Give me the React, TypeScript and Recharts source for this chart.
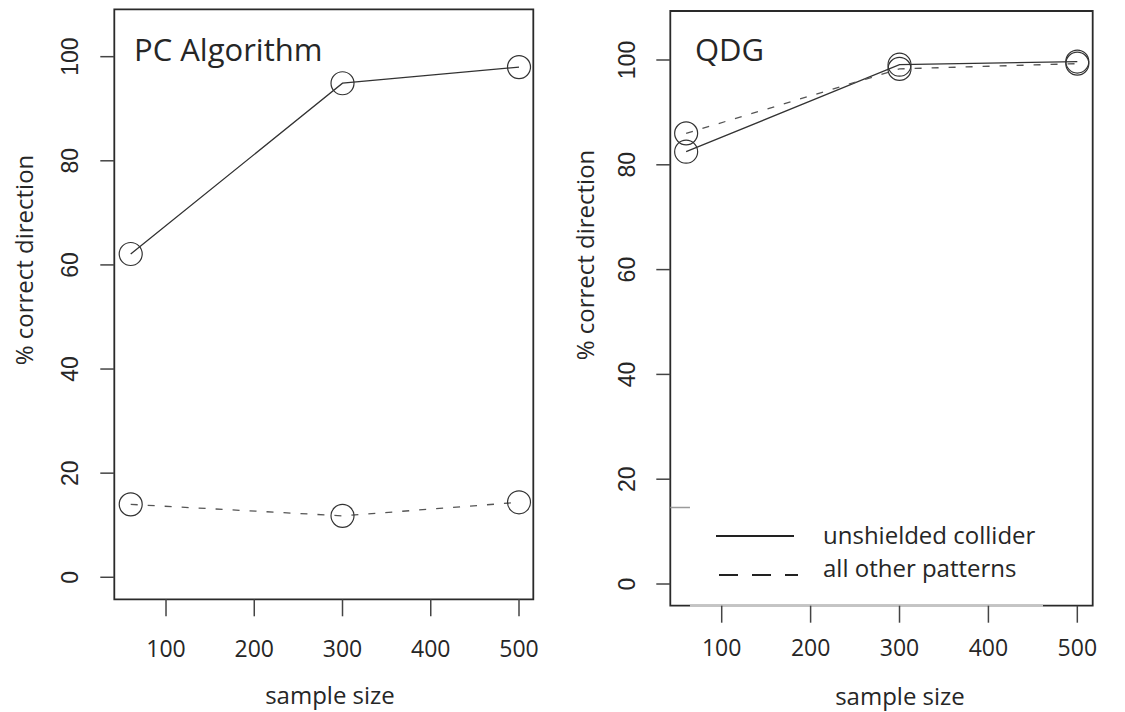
import React from 'react';
import { LineChart, Line, XAxis, YAxis, ReferenceArea, ReferenceLine } from 'recharts';

// sample sizes on the x axis
const sampleSizes = [60, 300, 500];

// PC Algorithm panel
const pcCollider = [62.1, 94.9, 98.0];
const pcOther = [14.0, 11.8, 14.4];

// QDG panel
const qdgCollider = [82.5, 99.1, 99.7];
const qdgOther = [86.0, 98.3, 99.3];

const xTicks = [100, 200, 300, 400, 500];
const yTicks = [0, 20, 40, 60, 80, 100];

const legendLabels = ['unshielded collider', 'all other patterns'];

const pcData = sampleSizes.map((n, i) => ({ n, collider: pcCollider[i], other: pcOther[i] }));
const qdgData = sampleSizes.map((n, i) => ({ n, collider: qdgCollider[i], other: qdgOther[i] }));

const INK = '#262626';
const SANS = '"Open Sans", "Noto Sans", sans-serif';

const Circle = (p: any) => (
  <circle key={p.key ?? `${p.cx}-${p.cy}`} cx={p.cx} cy={p.cy} r={11.5} fill="none" stroke="#333" strokeWidth={1.2} />
);

const YTick = (props: any) => {
  const { x, y, payload } = props;
  return (
    <text
      x={x}
      y={y}
      transform={`rotate(-90 ${x} ${y})`}
      textAnchor="middle"
      dominantBaseline="central"
      fontSize={23}
      fontFamily='"Liberation Sans", Arial, sans-serif'
      fill={INK}
    >
      {payload.value}
    </text>
  );
};

const XTick = (props: any) => {
  const { x, y, payload } = props;
  return (
    <text x={x} y={y} textAnchor="middle" fontSize={23} fontFamily={SANS} fill={INK}>
      {payload.value}
    </text>
  );
};

type PanelProps = {
  data: any[];
  left: number;
  width: number;
  margin: { top: number; right: number; left: number; bottom: number };
  xDomain: [number, number];
  yDomain: [number, number];
  yTickMargin: number;
  xTickMargin: number;
  extras?: React.ReactNode;
};

const Panel = ({ data, left, width, margin, xDomain, yDomain, yTickMargin, xTickMargin, extras }: PanelProps) => (
  <div style={{ position: 'absolute', left, top: 0 }}>
    <LineChart width={width} height={712} data={data} margin={margin}>
      <XAxis
        type="number"
        dataKey="n"
        domain={xDomain}
        ticks={xTicks}
        allowDataOverflow
        axisLine={false}
        tickLine={{ stroke: '#444', strokeWidth: 1.5 }}
        tickSize={17}
        tickMargin={xTickMargin}
        height={100}
        tick={XTick}
        interval={0}
      />
      <YAxis
        type="number"
        domain={yDomain}
        ticks={yTicks}
        allowDataOverflow
        axisLine={false}
        tickLine={{ stroke: '#444', strokeWidth: 1.5 }}
        tickSize={14}
        tickMargin={yTickMargin}
        width={100}
        tick={YTick}
        interval={0}
      />
      <ReferenceArea
        x1={xDomain[0]}
        x2={xDomain[1]}
        y1={yDomain[0]}
        y2={yDomain[1]}
        fill="none"
        stroke="#2a2a2a"
        strokeWidth={1.8}
        fillOpacity={0}
      />
      {extras}
      <Line
        type="linear"
        dataKey="collider"
        stroke="#333"
        strokeWidth={1.3}
        dot={Circle}
        activeDot={false}
        isAnimationActive={false}
      />
      <Line
        type="linear"
        dataKey="other"
        stroke="#555"
        strokeWidth={1.3}
        strokeDasharray="7 10"
        dot={Circle}
        activeDot={false}
        isAnimationActive={false}
      />
    </LineChart>
  </div>
);

const qdgX: [number, number] = [42.18, 517.3];
const qdgY: [number, number] = [-4.14, 109.35];

export default function App() {
  return (
    <div style={{ position: 'absolute', left: 0, top: 0, width: 1125, height: 712, background: '#fff', overflow: 'hidden' }}>
      <Panel
        data={pcData}
        left={0}
        width={560}
        margin={{ top: 9.3, right: 26.7, left: 14.3, bottom: 12.7 }}
        xDomain={[41.4, 516.2]}
        yDomain={[-4.23, 109.1]}
        yTickMargin={30.3}
        xTickMargin={40.7}
      />
      <Panel
        data={qdgData}
        left={560}
        width={565}
        margin={{ top: 11, right: 32.3, left: 10.3, bottom: 6.3 }}
        xDomain={qdgX}
        yDomain={qdgY}
        yTickMargin={29.3}
        xTickMargin={33.7}
        extras={[
          <ReferenceLine
            key="b"
            segment={[{ x: 64.3, y: qdgY[0] }, { x: 461.4, y: qdgY[0] }]}
            stroke="#c4c4c4"
            strokeWidth={2.4}
          />,
          <ReferenceLine
            key="t"
            segment={[{ x: qdgX[0], y: 14.6 }, { x: 64.3, y: 14.6 }]}
            stroke="#9a9a9a"
            strokeWidth={1.5}
          />,
        ]}
      />
      <svg width={1125} height={712} style={{ position: 'absolute', left: 0, top: 0, pointerEvents: 'none' }}>
        <g fontFamily={SANS} fill={INK}>
          <text x={134} y={61} fontSize={31}>PC Algorithm</text>
          <text x={695} y={61} fontSize={31}>QDG</text>
          <text x={23} y={260} fontSize={24} textAnchor="middle" dominantBaseline="central" transform="rotate(-90 23 260)">
            % correct direction
          </text>
          <text x={584.5} y={255} fontSize={24} textAnchor="middle" dominantBaseline="central" transform="rotate(-90 584.5 255)">
            % correct direction
          </text>
          <text x={330} y={704} fontSize={24} textAnchor="middle">sample size</text>
          <text x={900} y={705} fontSize={24} textAnchor="middle">sample size</text>
          <text x={823} y={544} fontSize={24}>{legendLabels[0]}</text>
          <text x={823} y={577} fontSize={24}>{legendLabels[1]}</text>
        </g>
        <line x1={716} y1={536} x2={794} y2={536} stroke="#222" strokeWidth={1.8} />
        <line x1={719} y1={575} x2={798} y2={575} stroke="#222" strokeWidth={1.8} strokeDasharray="19 14" />
      </svg>
    </div>
  );
}
